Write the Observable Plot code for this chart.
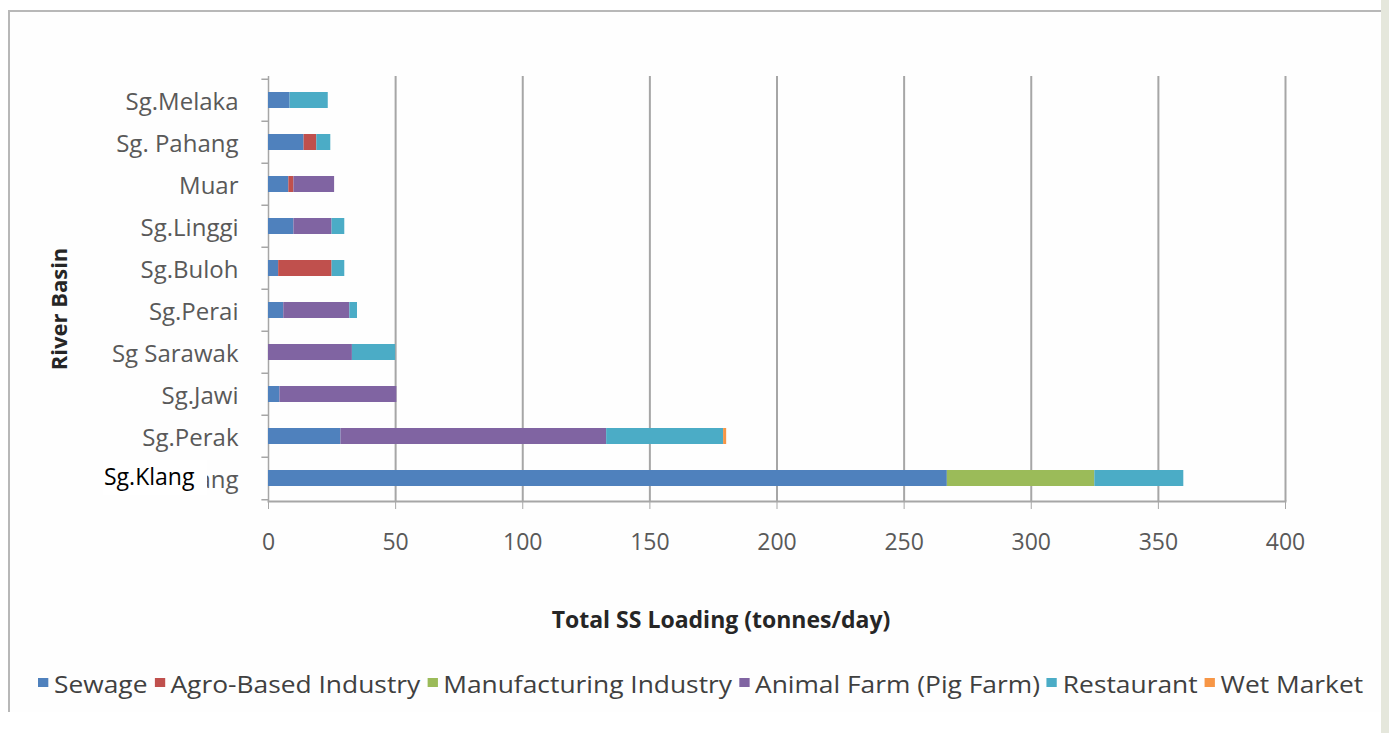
<!DOCTYPE html>
<html>
<head>
<meta charset="utf-8">
<script src="https://cdn.jsdelivr.net/npm/d3@7"></script>
<script src="https://cdn.jsdelivr.net/npm/@observablehq/plot@0.6"></script>
<style>
  html, body { margin: 0; padding: 0; background: #ffffff; }
  body { width: 1389px; height: 733px; position: relative; overflow: hidden; font-family: "Open Sans", sans-serif; }
  #frame { position: absolute; left: 8px; top: 10px; width: 1372px; height: 700px; border-top: 2px solid #b8b8b8; border-left: 2px solid #b8b8b8; background: #fefefe; }
  #rightstrip { position: absolute; left: 1381px; top: 0; width: 8px; height: 733px; background: #e5e7dc; }
  #chart { position: absolute; left: 0; top: 0; }
  #xtitle { position: absolute; left: 0; top: 603px; width: 1442px; text-align: center; font: bold 23px "Open Sans", sans-serif; color: #262626; }
  #ytitle { position: absolute; left: 58px; top: 309px; transform: translate(-50%, -50%) rotate(-90deg); white-space: nowrap; font: bold 22px "Open Sans", sans-serif; color: #262626; }
  #legend { position: absolute; left: 38px; top: 668px; white-space: nowrap; font: 23px "Open Sans", sans-serif; color: #404040; transform-origin: 0 0; }
  #legend .item { display: inline-block; margin-right: 6px; }
  #legend .sw { display: inline-block; width: 9px; height: 9px; margin-right: 5px; vertical-align: 6px; }
  #klang { position: absolute; left: 103px; top: 460px; width: 104px; height: 35px; background: #ffffff; font: 23px "Open Sans", sans-serif; color: #000; line-height: 33px; padding-left: 1px; box-sizing: border-box; }
</style>
</head>
<body>
<div id="frame"></div>
<div id="rightstrip"></div>
<div id="chart"></div>
<div id="xtitle">Total SS Loading (tonnes/day)</div>
<div id="ytitle">River Basin</div>
<div id="legend"></div>
<div id="klang">Sg.Klang</div>
<script>
// River basins (top to bottom)
const basins = ["Sg.Melaka", "Sg. Pahang", "Muar", "Sg.Linggi", "Sg.Buloh", "Sg.Perai", "Sg Sarawak", "Sg.Jawi", "Sg.Perak", "Sg.Klang"];
const sources = ["Sewage", "Agro-Based Industry", "Manufacturing  Industry", "Animal Farm (Pig Farm)", "Restaurant", "Wet Market"];
const colors = ["#4F81BD", "#C0504D", "#9BBB59", "#8064A2", "#4BACC6", "#F79646"];

// SS loading (tonnes/day) per source, in basin order
const sewage        = [8.5, 14, 8, 10, 4, 6, 0, 4.5, 28.5, 267];
const agroBased     = [0, 5, 2, 0, 21, 0, 0, 0, 0, 0];
const manufacturing = [0, 0, 0, 0, 0, 0, 0, 0, 0, 58];
const animalFarm    = [0, 0, 16, 15, 0, 26, 33, 46, 104.5, 0];
const restaurant    = [15, 5.5, 0, 5, 5, 3, 17, 0, 46, 35];
const wetMarket     = [0, 0, 0, 0, 0, 0, 0, 0, 1.2, 0];

const xTicks = [0, 50, 100, 150, 200, 250, 300, 350, 400];

const series = [sewage, agroBased, manufacturing, animalFarm, restaurant, wetMarket];
const data = [];
basins.forEach((b, i) => {
  sources.forEach((s, j) => {
    if (series[j][i] > 0) data.push({basin: b, source: s, value: series[j][i]});
  });
});

const gridColor = "#a6a6a6";
const plot = Plot.plot({
  width: 1389,
  height: 600,
  marginLeft: 268,
  marginRight: 104,
  marginTop: 76,
  marginBottom: 99,
  style: {background: "transparent", fontFamily: "Open Sans, sans-serif", fontSize: "24px", color: "#595959"},
  x: {domain: [0, 400], ticks: xTicks},
  y: {domain: basins, padding: 0},
  color: {domain: sources, range: colors},
  marks: [
    Plot.ruleX(xTicks.slice(1), {stroke: gridColor, strokeWidth: 2}),
    Plot.ruleX([0], {stroke: gridColor, strokeWidth: 1.5}),
    Plot.ruleY(basins, {y: d => d, x1: -2.6, x2: 0, dy: -21.25, stroke: gridColor, strokeWidth: 1.5}),
    Plot.ruleY(basins.slice(-1), {y: d => d, x1: -2.6, x2: 0, dy: 21.25, stroke: gridColor, strokeWidth: 1.5}),
    Plot.barX(data, Plot.stackX({x: "value", y: "basin", fill: "source", order: sources, insetTop: 13, insetBottom: 13})),
    Plot.frame({anchor: "bottom", stroke: gridColor, strokeWidth: 2}),
    Plot.axisX({ticks: xTicks, tickSize: 8, tickPadding: 24, stroke: gridColor, tickFormat: d => d, label: null, fill: "#595959", fontSize: 23}),
    Plot.axisY({tickSize: 0, tickPadding: 30, label: null, fill: "#595959", fontSize: 24, dy: 2})
  ]
});
document.getElementById("chart").appendChild(plot);

// legend
const lg = d3.select("#legend");
sources.forEach((s, j) => {
  const it = lg.append("span").attr("class", "item");
  it.append("span").attr("class", "sw").style("background", colors[j]);
  it.append("span").text(s);
});
const lgNode = document.getElementById("legend");
const w = lgNode.getBoundingClientRect().width;
lgNode.style.transform = `scaleX(${1332 / w})`;
</script>
</body>
</html>
